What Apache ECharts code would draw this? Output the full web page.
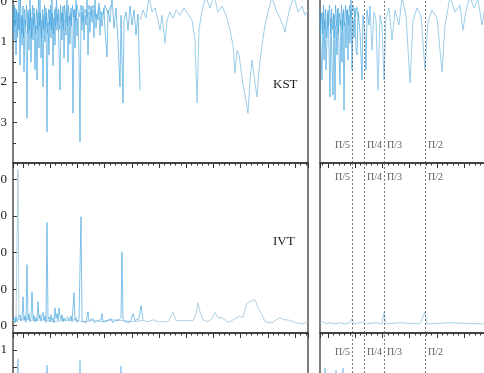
<!DOCTYPE html>
<html><head><meta charset="utf-8">
<script src="https://cdn.jsdelivr.net/npm/echarts@6/dist/echarts.min.js"></script>
<style>html,body{margin:0;padding:0;background:#fff;overflow:hidden;width:484px;height:373px;position:relative}
#c{position:absolute;left:-30px;top:-30px;width:700px;height:480px}</style>
</head><body><div id="c"></div>
<script>
// ---- data (x: sample index, y: value) ----
const kstDenseL = [[0,-0.10],[1,-0.96],[2,-0.17],[3,-1.33],[4,-0.27],[5,-0.72],[6,0.05],[7,-1.58],[8,-0.35],[9,-1.09],[10,-0.12],[11,-1.75],[12,-0.47],[13,-0.84],[14,-2.89],[15,-0.22],[16,-1.21],[17,0.07],[18,-1.51],[19,-0.42],[20,-0.96],[21,-0.17],[22,-1.70],[23,-0.59],[24,-1.95],[25,-0.27],[26,-1.16],[27,0.10],[28,-1.41],[29,-0.47],[30,-2.12],[31,-0.35],[32,-1.01],[33,-0.17],[34,-3.23],[35,-0.52],[36,-1.33],[37,-0.22],[38,-0.91],[39,0.07],[40,-1.60],[41,-0.42],[42,-1.09],[43,-0.15],[44,-0.72],[45,-0.32],[46,-1.26],[47,-2.20],[48,-0.27],[49,-0.96],[50,-0.12],[51,-1.41],[52,-0.47],[53,-0.84],[54,0.05],[55,-1.51],[56,-0.37],[57,-1.06],[58,-0.17],[59,-0.67],[60,-2.77],[61,-0.22],[62,-1.16],[63,0.10],[64,-0.86],[65,-0.42],[66,-1.33],[67,-3.48],[68,-0.27],[69,-0.72],[70,-0.12],[71,-0.96],[72,-0.35],[73,-0.59],[74,0.07],[75,-1.33],[76,-0.27],[77,-0.77],[78,-0.12],[79,-0.52],[80,-0.22],[81,-0.91],[82,0.10],[83,-0.67],[84,-0.32],[85,-0.47],[86,-0.05],[87,-0.84],[88,-0.27],[89,-0.62],[91,-0.17],[92,-0.72],[94,-1.38],[95,-0.22],[97,-0.52],[99,0.10],[101,-0.67],[103,-0.17],[105,-0.96],[107,-2.12],[108,-0.35],[110,-2.52],[111,-0.47],[113,-0.27],[115,-0.72],[117,-0.12],[119,-0.59],[121,-0.22],[123,-0.84],[125,-0.32],[127,-2.20]];
const kstBandL = [[0,-0.3],[0.5,-0.8],[1.5,-0.1],[2.5,-0.6],[3.5,-0.2],[4.5,-0.9],[5.5,-0.3],[6.5,-0.7],[7.5,0.05],[8.5,-0.8],[9.5,-0.4],[10.5,-0.9],[11.5,-0.2],[12.5,-0.6],[13.5,-0.1],[14.5,-0.8],[15.5,-0.3],[16.5,-0.7],[17.5,-0.2],[18.5,-0.9],[19.5,-0.1],[20.5,-0.6],[21.5,-0.3],[22.5,-0.8],[23.5,-0.2],[24.5,-0.7],[25.5,0.05],[26.5,-0.6],[27.5,-0.3],[28.5,-0.9],[29.5,-0.2],[30.5,-0.7],[31.5,-0.1],[32.5,-0.6],[33.5,-0.3],[34.5,-0.8],[35.5,-0.2],[36.5,-0.6],[37.5,-0.1],[38.5,-0.7],[39.5,-0.3],[40.5,-0.8],[41.5,-0.2],[42.5,-0.6],[43.5,0.05],[44.5,-0.5],[45.5,-0.2],[46.5,-0.7],[47.5,-0.1],[48.5,-0.5],[49.5,-0.3],[50.5,-0.7],[51.5,-0.1],[52.5,-0.5],[53.5,-0.2],[54.5,-0.6],[55.5,-0.1],[56.5,-0.5],[57.5,-0.3],[58.5,-0.6],[59.5,-0.1],[60.5,-0.4],[61.5,-0.2],[62.5,-0.5],[64,-0.1],[66,-0.4],[68,-0.1],[70,-0.5],[72,-0.2],[74,-0.4],[76,-0.1],[78,-0.35],[80,-0.1],[83,-0.4],[86,-0.15],[89,-0.35],[92,-0.1],[95,-0.3],[98,-0.1]];
const kstLightL = [[127,-0.47],[130,-0.22],[133,-0.42],[136,0.12],[139,-0.27],[142,-0.17],[145,-0.47],[147,-0.72],[149,-0.35],[152,-1.04],[154,-0.47],[157,-0.27],[160,-0.42],[163,-0.22],[167,-0.35],[171,-0.17],[175,-0.32],[179,-0.47],[182,-0.96],[184,-2.52],[186,-0.72],[189,-0.22],[193,0.10],[197,-0.17],[201,0.15],[205,-0.27],[209,-0.12],[213,-0.35],[217,-0.72],[220,-1.09],[222,-1.78],[224,-1.21],[226,-1.33],[228,-1.70],[230,-2.07],[232,-2.32],[235,-2.77],[237,-1.95],[239,-1.46],[241,-1.83],[244,-2.37],[246,-1.70],[249,-1.09],[252,-0.59],[255,-0.27],[259,0.10],[263,-0.22],[267,-0.42],[270,-0.59],[272,-0.77],[274,-0.47],[277,-0.17],[281,0.12],[285,-0.27],[289,-0.12],[292,-0.35],[295,-0.22]];
const ivtDenseL = [[0,14],[1,22],[2,8],[3,25],[4,11],[6,16],[7,30],[8,12],[9,20],[10,79],[11,14],[12,27],[13,9],[14,167],[15,18],[16,33],[17,11],[18,24],[19,93],[20,16],[21,28],[22,10],[23,22],[24,14],[25,66],[26,19],[27,30],[28,12],[29,25],[30,36],[31,15],[32,27],[33,9],[34,282],[35,18],[36,24],[37,11],[38,30],[39,14],[40,22],[41,8],[42,49],[43,20],[44,33],[45,14],[46,49],[47,25],[48,16],[49,30],[50,11],[51,22],[52,14],[53,19],[54,9],[55,24],[56,12],[57,18],[58,27],[59,11],[61,90],[62,16],[63,22],[64,9],[66,19],[67,14],[68,298],[69,18],[70,11],[72,16],[73,8],[75,38],[76,14],[78,11],[80,19],[82,8],[84,14],[86,11],[88,16],[89,33],[90,11],[92,8],[94,14],[96,11],[98,19],[100,8],[102,14],[104,11],[106,16],[108,22],[109,202],[110,19],[112,11],[114,14],[116,8],[118,16],[120,33],[122,14],[124,11],[126,19],[128,55],[130,16]];
const ivtLightL = [[0,14],[3,11],[5,427],[6,16],[10,19],[20,14],[30,16],[40,11],[50,14],[60,16],[70,11],[80,14],[90,11],[100,16],[110,14],[120,11],[130,14],[135,11],[140,16],[145,11],[147,8],[152,11],[155,11],[160,36],[163,14],[165,11],[172,14],[180,14],[183,33],[185,63],[187,38],[190,16],[195,11],[199,19],[202,36],[205,22],[209,22],[214,11],[217,11],[222,19],[224,22],[227,27],[230,22],[233,57],[237,66],[242,71],[246,44],[249,30],[252,11],[259,8],[263,16],[267,22],[271,16],[275,16],[283,8],[289,5],[295,11]];
const lowL = [[0,0.05],[4,0.1],[5,0.74],[6,0.1],[12,0.15],[20,0.08],[33,0.12],[34,0.56],[35,0.1],[50,0.05],[66,0.1],[67,0.70],[68,0.1],[90,0.05],[107,0.1],[108,0.53],[109,0.1],[140,0.05],[200,0.05],[295,0.05]];
const kstDenseR = [[0,-0.35],[1,-1.21],[2,-1.95],[3,-0.27],[4,-1.46],[5,-0.47],[6,-1.70],[7,-1.70],[8,-0.22],[9,-1.09],[10,-2.37],[11,-0.42],[12,-1.58],[13,-2.32],[14,-0.35],[15,-2.45],[16,-0.59],[17,-1.33],[18,-0.17],[19,-1.21],[20,-2.07],[21,-0.47],[22,-1.51],[23,-0.27],[24,-2.70],[25,-0.52],[26,-1.16],[27,-0.22],[28,-1.46],[29,-0.35],[30,-1.04],[31,0.08],[32,-1.70],[33,-0.42],[34,-0.91],[35,-0.17],[36,-1.21],[37,-1.33],[38,-0.27],[40,-0.77],[42,-1.95],[43,-0.35],[45,-0.84],[46,-1.70],[47,-0.22],[49,-0.59],[50,-0.12]];
const kstBandR = [[0,-0.2],[0.5,-0.9],[1.5,-0.3],[2.5,-0.8],[3.5,-0.1],[4.5,-0.7],[5.5,-0.2],[6.5,-0.9],[7.5,-0.3],[8.5,-0.6],[9.5,-0.1],[10.5,-0.8],[11.5,-0.2],[12.5,-0.7],[13.5,-0.3],[14.5,-0.9],[15.5,-0.1],[16.5,-0.6],[17.5,-0.2],[18.5,-0.8],[19.5,-0.3],[20.5,-0.6],[21.5,-0.1],[22.5,-0.7],[23.5,-0.2],[24.5,-0.6],[25.5,-0.1],[26.5,-0.5],[27.5,-0.2],[28.5,-0.6],[29.5,-0.1],[31,-0.4],[33,-0.1],[35,-0.4],[37,-0.15],[39,-0.4]];
const kstLightR = [[50,-0.12],[52,-1.21],[54,-0.27],[56,-0.47],[58,-2.20],[60,-0.35],[62,-0.59],[64,-1.95],[66,-0.42],[69,-0.17],[72,-0.96],[75,-0.22],[79,-0.59],[82,0.10],[86,-0.35],[90,-2.02],[93,-0.47],[97,-0.17],[101,-0.35],[105,-1.70],[108,-0.52],[112,-0.22],[117,-0.42],[122,-1.75],[125,-0.59],[130,0.10],[135,-0.27],[140,-0.10],[143,-0.72],[146,-0.22],[150,0.10],[154,-0.17],[158,0.05],[162,-0.59],[165,-0.17],[170,0.05],[180,-0.20],[200,-0.10]];
const ivtR = [[0,8],[3,11],[6,5],[10,8],[15,5],[20,8],[25,5],[30,8],[32,19],[34,5],[40,8],[44,11],[46,5],[55,8],[62,5],[64,36],[66,5],[80,8],[100,5],[105,38],[107,5],[130,8],[160,5],[200,8],[295,5]];
const lowR = [[0,0.05],[4,0.1],[5,0.47],[6,0.1],[15,0.1],[16,0.41],[17,0.1],[22,0.1],[23,0.47],[24,0.1],[40,0.05],[295,0.05]];
const piNames = ['Π/5','Π/4','Π/3','Π/2'];
const piPos = [32, 44, 64, 105];
const kstTicks = [-4,-3,-2,-1,0];
const ivtTicks = [0,100,200,300,400];

// ---- layout (container is offset by 30px on both axes) ----
const O = 30;
const grids = [
  {left:13+O, top:-11+O, width:295, height:174},
  {left:13+O, top:163+O, width:295, height:170},
  {left:13+O, top:333+O, width:295, height:68},
  {left:320+O, top:-11+O, width:295, height:174},
  {left:320+O, top:163+O, width:295, height:170},
  {left:320+O, top:333+O, width:295, height:68}
].map(g => Object.assign(g, {show:true, borderColor:'#3a3a3a', borderWidth:1.3, backgroundColor:'transparent', containLabel:false, outerBoundsMode:'none'}));

const tickRange = [[-3.68,104.78],[-3.68,104.78],[-3.68,104.78],[-2.94,105.5],[-2.94,105.5],[-2.94,105.5]];
const xAxis = [];
grids.forEach((g,i) => {
  xAxis.push({type:'value', gridIndex:i, min:0, max:295, show:false});
  xAxis.push({type:'value', gridIndex:i, min:tickRange[i][0], max:tickRange[i][1], splitNumber:10,
    axisLine:{show:false}, axisLabel:{show:false}, splitLine:{show:false},
    axisTick:{show:true, inside:true, length:5, lineStyle:{color:'#333', width:1}}});
  xAxis.push({type:'value', gridIndex:i, min:tickRange[i][0], max:tickRange[i][1], splitNumber:54,
    axisLine:{show:false}, axisLabel:{show:false}, splitLine:{show:false},
    axisTick:{show:true, inside:true, length:2.5, lineStyle:{color:'#333', width:1}}});
});

const labFont = {fontFamily:'"Liberation Serif", serif', fontSize:13, color:'#222', margin:6};
function yax(i, min, max, opts, showLabels) {
  return Object.assign({type:'value', gridIndex:i, min:min, max:max,
    axisLine:{show:false}, splitLine:{show:false},
    axisTick:{show:showLabels, inside:true, length:4, lineStyle:{color:'#333'}},
    axisLabel:Object.assign({show:showLabels, showMinLabel:false, showMaxLabel:false}, labFont)}, opts);
}
const yAxis = [
  yax(0, -4, 0.3, {interval:1, minorTick:{show:true, splitNumber:2, length:3, lineStyle:{color:'#333'}}}, true),
  yax(1, -20, 445, {splitNumber:5}, true),
  yax(2, -0.5, 1.5, {interval:0.5}, true),
  yax(3, -4, 0.3, {interval:1}, false),
  yax(4, -20, 445, {splitNumber:5}, false),
  yax(5, -0.5, 1.5, {interval:0.5}, false)
];
yAxis[0].axisLabel.formatter = v => kstTicks.includes(v) ? String(v) : '';
yAxis[1].axisLabel.formatter = v => ivtTicks.includes(v) ? String(v) : '';
yAxis[2].axisLabel.formatter = v => Number.isInteger(v) ? String(v) : '';

function line(data, g, color, width, z) {
  return {type:'line', data:data, xAxisIndex:g*3, yAxisIndex:g, showSymbol:false, symbol:'none',
    lineStyle:{color:color, width:width}, z:z, silent:true, clip:true, animation:false};
}
const dense = 'rgba(70,165,222,0.85)';
const light = 'rgba(140,198,232,0.95)';
const series = [
  line(kstLightL, 0, light, 0.9, 2),
  line(kstBandL, 0, 'rgba(60,160,220,0.75)', 0.8, 3),
  line(kstDenseL, 0, dense, 0.8, 3),
  line(ivtLightL, 1, 'rgba(165,200,222,0.95)', 0.9, 2),
  line(ivtDenseL, 1, dense, 0.8, 3),
  line(lowL, 2, 'rgba(120,185,225,0.9)', 0.8, 2),
  line(kstLightR, 3, light, 0.9, 2),
  line(kstBandR, 3, 'rgba(60,160,220,0.75)', 0.8, 3),
  line(kstDenseR, 3, dense, 0.8, 3),
  line(ivtR, 4, 'rgba(150,200,228,0.95)', 0.9, 2),
  line(lowR, 5, 'rgba(120,185,225,0.9)', 0.8, 2)
];
[3,4,5].forEach(g => {
  series.push({type:'line', data:[], xAxisIndex:g*3, yAxisIndex:g, silent:true, animation:false,
    markLine:{silent:true, symbol:['none','none'], animation:false, label:{show:false},
      lineStyle:{type:[2,2], color:'#555', width:0.8},
      data:piPos.map(p => ({xAxis:p}))}});
});
const labY = {3:-3.56, 4:407, 5:0.94};
[3,4,5].forEach(g => {
  series.push({type:'scatter', xAxisIndex:g*3, yAxisIndex:g, symbolSize:0, silent:true, animation:false, z:5,
    data:piPos.map((p,k) => ({value:[p, labY[g]], name:piNames[k],
      label:{show:true, position:k===0?'left':'right', distance:k===0?2:3, formatter:piNames[k],
        fontFamily:'"Liberation Serif", serif', fontSize:10, color:'#333'}}))});
});

const chart = echarts.init(document.getElementById('c'), null, {renderer:'canvas'});
chart.setOption({
  animation:false,
  grid:grids, xAxis:xAxis, yAxis:yAxis, series:series,
  graphic:[
    {type:'text', left:273+O, top:78+O, style:{text:'KST', font:'13px "Liberation Serif"', fill:'#222'}},
    {type:'text', left:273+O, top:235+O, style:{text:'IVT', font:'13px "Liberation Serif"', fill:'#222'}}
  ]
});
</script></body></html>
